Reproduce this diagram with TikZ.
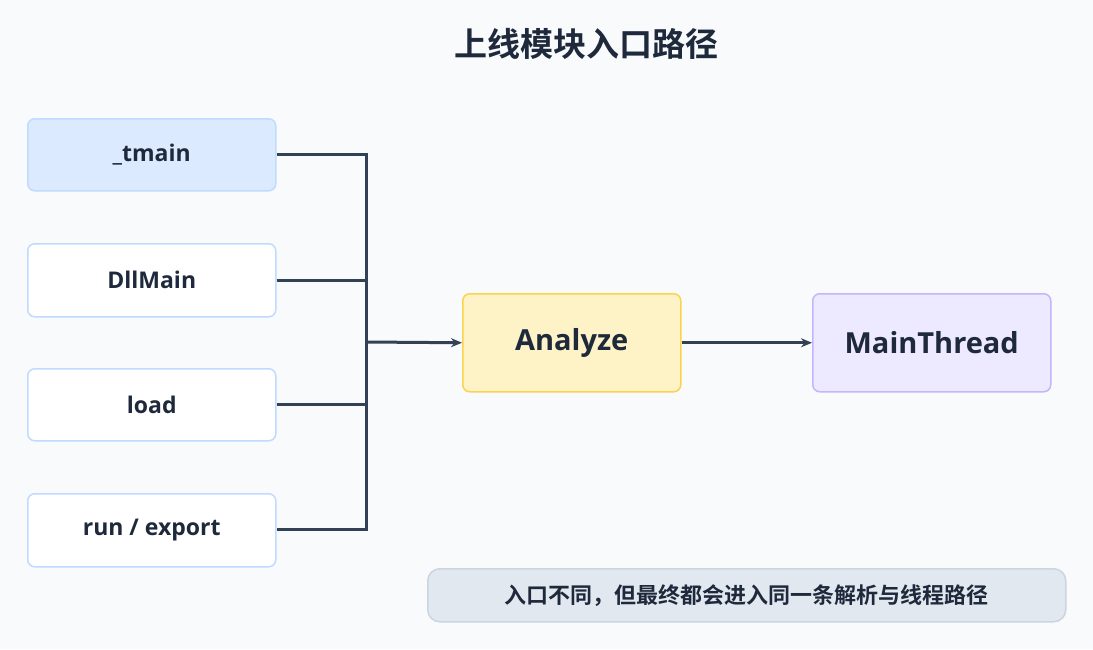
\documentclass[tikz,border=0pt]{standalone}
\usepackage{fontspec}
\setmainfont{Open Sans}[BoldFont={Open Sans Bold}]
\newfontfamily\cjk{Noto Sans CJK SC Bold}
\usetikzlibrary{arrows.meta}
\definecolor{bg}{HTML}{F8FAFC}
\definecolor{txt}{HTML}{1E293B}
\definecolor{ln}{HTML}{334155}
\begin{document}
\begin{tikzpicture}[x=1pt,y=-1pt,
  box/.style={line width=1.5pt,rounded corners=7pt,anchor=north west,text=txt},
  sm/.style={font=\fontsize{23}{26}\selectfont\bfseries},
  lg/.style={font=\fontsize{29}{32}\selectfont\bfseries},
  conn/.style={draw=ln,line width=3pt},
  arr/.style={conn,-{Stealth[length=11pt,width=9pt]}}]
\fill[bg] (0,0) rectangle (1093,649);
\node[text=txt,font=\cjk\fontsize{33}{36}\selectfont] (title) at (586,44) {上线模块入口路径};
\node[box,sm,fill={rgb,255:red,219;green,234;blue,254},draw={rgb,255:red,191;green,219;blue,254},minimum width=248pt,minimum height=72pt] (a) at (27,118) {\_tmain};
\node[box,sm,fill=white,draw={rgb,255:red,191;green,219;blue,254},minimum width=248pt,minimum height=73pt] (b) at (27,243) {DllMain};
\node[box,sm,fill=white,draw={rgb,255:red,191;green,219;blue,254},minimum width=248pt,minimum height=72pt] (c) at (27,368) {load};
\node[box,sm,fill=white,draw={rgb,255:red,191;green,219;blue,254},minimum width=248pt,minimum height=73pt] (d) at (27,493) {run / export};
\node[box,lg,fill={rgb,255:red,254;green,243;blue,199},draw={rgb,255:red,252;green,211;blue,77},minimum width=218pt,minimum height=98pt] (an) at (462,293) {Analyze};
\node[box,lg,fill={rgb,255:red,237;green,233;blue,254},draw={rgb,255:red,196;green,181;blue,253},minimum width=238pt,minimum height=98pt] (mt) at (812,293) {MainThread};
\node[box,fill={rgb,255:red,226;green,232;blue,240},draw={rgb,255:red,203;green,213;blue,225},rounded corners=12pt,minimum width=638pt,minimum height=53pt,font=\cjk\fontsize{22}{26}\selectfont] (note) at (427,568) {入口不同，但最终都会进入同一条解析与线程路径};
\coordinate (j1) at (366,154);
\coordinate (j4) at (366,529);
\coordinate (jm) at (366,342);
\draw[conn] (a.east |- j1) -- (j1) -- (j4) -- (d.east |- j4);
\draw[conn] (b.east) -- (b.east -| jm);
\draw[conn] (c.east) -- (c.east -| jm);
\draw[arr] (jm) -- (an.west);
\draw[arr] (an.east) -- (mt.west);
\end{tikzpicture}
\end{document}
